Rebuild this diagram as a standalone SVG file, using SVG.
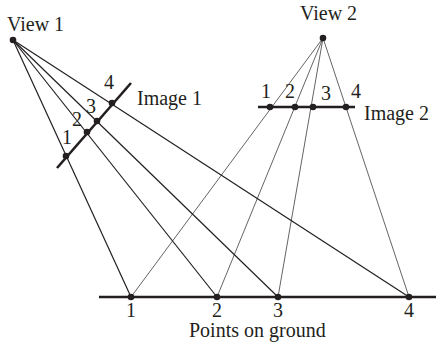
<svg xmlns="http://www.w3.org/2000/svg" width="436" height="342" viewBox="0 0 436 342" font-family="'Liberation Serif', 'DejaVu Serif', serif" font-size="20">
<style>
text{font-family:'Liberation Serif','DejaVu Serif',serif;font-size:20px;fill:#231f20}
.r1{stroke:#231f20;stroke-width:1.2;fill:none}
.r2{stroke:#231f20;stroke-width:0.7;fill:none}
.thick{stroke:#231f20;stroke-width:2.6;fill:none}
.dot{fill:#231f20}
</style>
<rect width="436" height="342" fill="#fff"/>
<g id="connectors">
<line class="r1" x1="13" y1="40" x2="131" y2="297"/>
<line class="r1" x1="13" y1="40" x2="217" y2="297"/>
<line class="r1" x1="13" y1="40" x2="278" y2="297"/>
<line class="r1" x1="13" y1="40" x2="409" y2="297"/>
<line class="r2" x1="323" y1="38" x2="131" y2="297"/>
<line class="r2" x1="323" y1="38" x2="217" y2="297"/>
<line class="r2" x1="323" y1="38" x2="278" y2="297"/>
<line class="r2" x1="323" y1="38" x2="409" y2="297"/>
</g>
<g id="view1">
<circle class="dot" cx="13" cy="40" r="3.3"/>
<text x="7" y="31">View 1</text>
</g>
<g id="view2">
<circle class="dot" cx="323" cy="38" r="3.3"/>
<text x="300" y="20">View 2</text>
</g>
<g id="image1">
<line class="thick" x1="57" y1="168" x2="131" y2="83"/>
<circle class="dot" cx="66" cy="156" r="3.3"/>
<circle class="dot" cx="87" cy="132" r="3.3"/>
<circle class="dot" cx="97" cy="121" r="3.3"/>
<circle class="dot" cx="112" cy="103" r="3.3"/>
<text x="62" y="144">1</text>
<text x="72" y="126">2</text>
<text x="86" y="113">3</text>
<text x="104" y="89">4</text>
<text x="137" y="105">Image 1</text>
</g>
<g id="image2">
<line class="thick" x1="258" y1="107" x2="355" y2="107"/>
<circle class="dot" cx="270" cy="107" r="3.3"/>
<circle class="dot" cx="295" cy="107" r="3.3"/>
<circle class="dot" cx="313" cy="107" r="3.3"/>
<circle class="dot" cx="346" cy="107" r="3.3"/>
<text x="261" y="98">1</text>
<text x="285" y="98">2</text>
<text x="321" y="100">3</text>
<text x="351" y="98">4</text>
<text x="364" y="120">Image 2</text>
</g>
<g id="ground">
<line class="thick" x1="99" y1="297" x2="436" y2="297"/>
<circle class="dot" cx="131" cy="297" r="3.3"/>
<circle class="dot" cx="217" cy="297" r="3.3"/>
<circle class="dot" cx="278" cy="297" r="3.3"/>
<circle class="dot" cx="409" cy="297" r="3.3"/>
<text x="126" y="317">1</text>
<text x="212" y="317">2</text>
<text x="273" y="317">3</text>
<text x="404" y="317">4</text>
<text x="189" y="337">Points on ground</text>
</g>
</svg>
